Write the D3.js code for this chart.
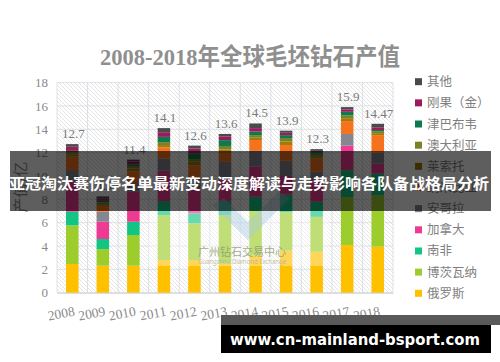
<!DOCTYPE html>
<html>
<head>
<meta charset="utf-8">
<script src="https://cdn.jsdelivr.net/npm/d3@7"></script>
<style>
  body { margin: 0; background: #fff; }
  svg { display: block; }
</style>
</head>
<body>
<div id="chart"></div>
<script>
// years and totals shown above bars
const years = ['2008', '2009', '2010', '2011', '2012', '2013', '2014', '2015', '2016', '2017', '2018'];
const totals = ['12.7', '8.3', '11.4', '14.1', '12.6', '13.6', '14.5', '13.9', '12.3', '15.9', '14.47'];
const yTicks = [0, 2, 4, 6, 8, 10, 12, 14, 16, 18];

// series, bottom of the stack first
const seriesNames = ['俄罗斯', '博茨瓦纳', '南非', '加拿大', '安哥拉', '纳米比亚', '莱索托', '澳大利亚', '津巴布韦', '刚果（金）', '其他'];
const russia      = [2.46, 2.31, 2.31, 2.8, 2.8, 2.5, 3.2, 3.6, 3.5, 4.08, 3.95];
const botswana    = [3.31, 1.43, 2.63, 3.85, 3.15, 4.16, 3.8, 3.3, 3.0, 4.12, 4.4];
const southAfrica = [1.17, 0.86, 1.14, 1.2, 0.85, 1.2, 1.23, 1.5, 1.3, 2.3, 1.85];
const canada      = [2.57, 1.48, 2.57, 2.6, 2.0, 1.85, 2.57, 1.6, 1.86, 2.1, 0.85];
const angola      = [1.0, 0.86, 0.75, 1.05, 1.0, 1.5, 1.35, 1.3, 0.71, 1.0, 0.95];
const namibia     = [1.14, 0.5, 1.0, 0.95, 1.1, 0.76, 0.93, 1.35, 1.13, 1.1, 1.5];
const lesotho     = [0.2, 0.15, 0.25, 0.2, 0.35, 0.3, 0.2, 0.3, 0.2, 0.25, 0.17];
const australia   = [0.2, 0.15, 0.2, 0.25, 0.2, 0.3, 0.22, 0.3, 0.2, 0.25, 0.17];
const zimbabwe    = [0.1, 0.13, 0.15, 0.45, 0.5, 0.5, 0.3, 0.25, 0.15, 0.3, 0.1];
const congo       = [0.35, 0.18, 0.25, 0.4, 0.4, 0.3, 0.3, 0.2, 0.1, 0.2, 0.23];
const other       = [0.23, 0.2, 0.15, 0.35, 0.25, 0.23, 0.4, 0.18, 0.15, 0.2, 0.3];

const seriesValues = [russia, botswana, southAfrica, canada, angola, namibia, lesotho, australia, zimbabwe, congo, other];
const colors = ['#ffc000', '#9dcd2d', '#13c585', '#ee3a93', '#868690', '#f4731c', '#a57a0a', '#7a8224', '#0b7a4d', '#9e1a5e', '#4a4a4a'];

const W = 500, H = 362;
const plot = { left: 57, right: 393, top: 82.6, bot: 292.7 };

const rows = years.map((yr, i) => {
  const r = { year: yr };
  seriesNames.forEach((n, k) => { r[n] = seriesValues[k][i]; });
  return r;
});

const svg = d3.select('#chart').append('svg').attr('width', W).attr('height', H);

const defs = svg.append('defs');
const pat = defs.append('pattern').attr('id', 'hatch').attr('patternUnits', 'userSpaceOnUse')
  .attr('width', 4).attr('height', 4);
pat.append('path').attr('d', 'M0,0 L4,4 M-1,3 L1,5 M3,-1 L5,1')
  .attr('stroke', '#dedede').attr('stroke-width', 0.8);

const x = d3.scaleBand().domain(years).range([plot.left, plot.right]).paddingInner(0.59).paddingOuter(0.295);
const y = d3.scaleLinear().domain([0, 18]).range([plot.bot, plot.top]);
const color = d3.scaleOrdinal().domain(seriesNames).range(colors);

// title
svg.append('text')
  .attr('x', 250).attr('y', 65)
  .attr('text-anchor', 'middle')
  .attr('font-family', '"Liberation Serif", "Noto Sans CJK SC", serif')
  .attr('font-weight', 'bold')
  .attr('font-size', 24)
  .attr('fill', '#8f8f8f')
  .attr('textLength', 300).attr('lengthAdjust', 'spacingAndGlyphs')
  .text('2008-2018年全球毛坯钻石产值');

// plot background
svg.append('rect')
  .attr('x', plot.left).attr('y', plot.top)
  .attr('width', plot.right - plot.left).attr('height', plot.bot - plot.top)
  .attr('fill', 'url(#hatch)');

// grid
const grid = svg.append('g').attr('stroke', '#d5dbe2').attr('stroke-width', 0.8);
grid.selectAll('line.h').data(yTicks).enter().append('line')
  .attr('x1', plot.left).attr('x2', plot.right)
  .attr('y1', d => y(d)).attr('y2', d => y(d));
const bounds = years.map(yr => x(yr) - x.step() * x.paddingInner() / 2);
bounds.push(plot.right);
grid.selectAll('line.v').data(bounds).enter().append('line')
  .attr('x1', d => d).attr('x2', d => d)
  .attr('y1', plot.top).attr('y2', plot.bot);

// y axis labels
const yAxis = d3.axisLeft(y).tickValues(yTicks).tickSize(0).tickPadding(9);
svg.append('g').attr('transform', 'translate(' + plot.left + ',0)').call(yAxis)
  .call(g => g.select('.domain').remove())
  .selectAll('text')
  .attr('font-family', '"Liberation Serif", serif')
  .attr('font-size', 13)
  .attr('fill', '#8a8a8a');

// x axis labels, slightly slanted
const xAxis = d3.axisBottom(x).tickSize(0).tickPadding(0);
svg.append('g').attr('transform', 'translate(0,' + plot.bot + ')').call(xAxis)
  .call(g => g.select('.domain').attr('stroke', '#d0d0d0'))
  .selectAll('text')
  .attr('font-family', '"Liberation Serif", serif')
  .attr('font-size', 13.5)
  .attr('fill', '#8a8a8a')
  .attr('text-anchor', 'end')
  .attr('dy', 0)
  .attr('transform', 'translate(3,23) rotate(-10)');

// stacked bars
const stacked = d3.stack().keys(seriesNames)(rows);
svg.append('g').selectAll('g').data(stacked).enter().append('g')
  .attr('fill', d => color(d.key))
  .selectAll('rect').data(d => d).enter().append('rect')
  .attr('x', d => x(d.data.year))
  .attr('width', x.bandwidth())
  .attr('y', d => y(d[1]))
  .attr('height', d => y(d[0]) - y(d[1]));

// totals
const topSeries = stacked[stacked.length - 1];
svg.append('g').selectAll('text').data(topSeries).enter().append('text')
  .attr('x', d => x(d.data.year) + x.bandwidth() / 2 + 1)
  .attr('y', d => y(d[1]) - 6)
  .attr('text-anchor', 'middle')
  .attr('font-family', '"Liberation Serif", serif')
  .attr('font-size', 13)
  .attr('fill', '#7a7a7a')
  .text((d, i) => totals[i]);

// watermark
const wm = svg.append('g');
wm.append('rect').attr('x', 148).attr('y', 211).attr('width', 182).attr('height', 55)
  .attr('fill', '#fff').attr('opacity', 0.35);
wm.append('path').attr('d', 'M212,205 L248,240 L290,198 L278,192 L248,222 L224,198 Z')
  .attr('fill', '#a9c9df').attr('opacity', 0.45);
wm.append('text').attr('x', 242).attr('y', 256).attr('text-anchor', 'middle')
  .attr('font-family', '"Noto Sans CJK SC", sans-serif').attr('font-size', 11)
  .attr('fill', '#8f9a72').attr('opacity', 0.8)
  .attr('textLength', 88).attr('lengthAdjust', 'spacingAndGlyphs')
  .text('广州钻石交易中心');
wm.append('text').attr('x', 242).attr('y', 264).attr('text-anchor', 'middle')
  .attr('font-family', '"Noto Sans", sans-serif').attr('font-size', 6.5)
  .attr('fill', '#b3b394').attr('opacity', 0.8)
  .attr('textLength', 88).attr('lengthAdjust', 'spacingAndGlyphs')
  .text('Guangzhou Diamond Exchange');

// y axis title
svg.append('text')
  .attr('transform', 'translate(26,187) rotate(-90)')
  .attr('text-anchor', 'middle')
  .attr('font-family', '"Noto Sans CJK SC", sans-serif')
  .attr('font-size', 15)
  .attr('fill', '#8a8a8a')
  .text('产值/亿');

// legend, top of stack first
const legendNames = seriesNames.slice().reverse();
const lg = svg.append('g').selectAll('g').data(legendNames).enter().append('g')
  .attr('transform', (d, i) => 'translate(415,' + (81.7 + i * 21.16) + ')');
lg.append('rect').attr('x', 0).attr('y', -3.5).attr('width', 7).attr('height', 7)
  .attr('fill', d => color(d));
lg.append('text').attr('x', 12).attr('y', 0).attr('dy', '0.36em')
  .attr('font-family', '"Noto Sans CJK SC", sans-serif')
  .attr('font-size', 12.5)
  .attr('fill', '#7f7f7f')
  .text(d => d);

// headline band over the chart
svg.append('rect').attr('x', 10).attr('y', 151).attr('width', 481).attr('height', 60)
  .attr('fill', '#000').attr('opacity', 0.63);
svg.append('text')
  .attr('x', 249).attr('y', 184).attr('dy', '0.36em')
  .attr('text-anchor', 'middle')
  .attr('font-family', '"Noto Sans CJK SC", sans-serif')
  .attr('font-weight', 'bold')
  .attr('font-size', 15)
  .attr('fill', '#fff')
  .attr('textLength', 480).attr('lengthAdjust', 'spacingAndGlyphs')
  .text('亚冠淘汰赛伤停名单最新变动深度解读与走势影响各队备战格局分析');

// site band at the bottom
svg.append('rect').attr('x', 221).attr('y', 315).attr('width', 279).attr('height', 10).attr('fill', '#595959');
svg.append('rect').attr('x', 221).attr('y', 325).attr('width', 270).attr('height', 28).attr('fill', '#000');
svg.append('text')
  .attr('x', 230).attr('y', 339).attr('dy', '0.36em')
  .attr('font-family', '"DejaVu Sans", sans-serif')
  .attr('font-weight', 'bold')
  .attr('font-size', 16)
  .attr('fill', '#fff')
  .attr('textLength', 250).attr('lengthAdjust', 'spacingAndGlyphs')
  .text('www.cn-mainland-bsport.com');
</script>
</body>
</html>
